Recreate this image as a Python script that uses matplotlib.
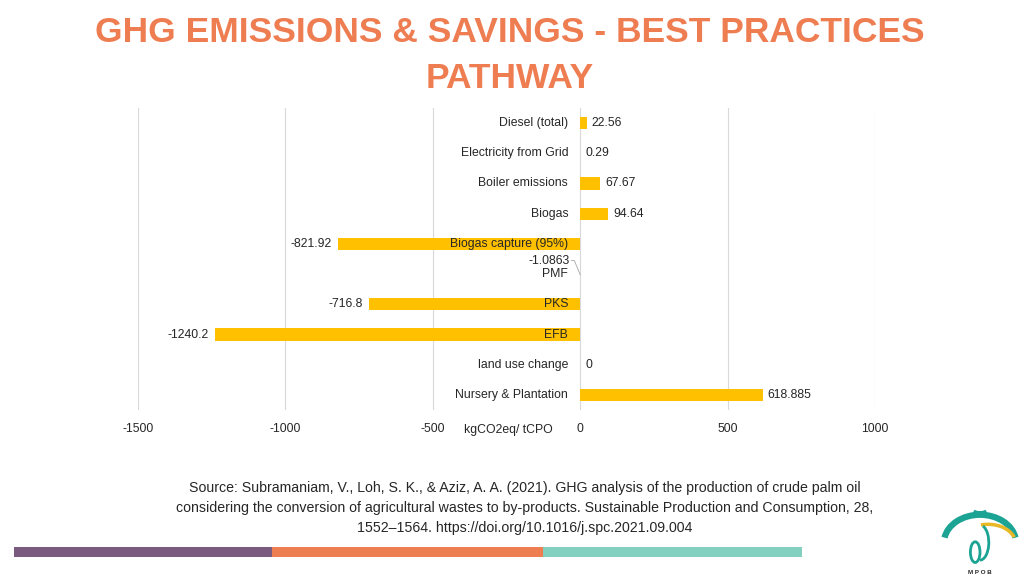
import matplotlib.pyplot as plt
from matplotlib.patches import Arc, Ellipse, Rectangle
import numpy as np

plt.rcParams['font.family'] = ['Liberation Sans', 'DejaVu Sans']

# ---- data ----
categories = ["Diesel (total)", "Electricity from Grid", "Boiler emissions", "Biogas",
              "Biogas capture (95%)", "PMF", "PKS", "EFB", "land use change",
              "Nursery & Plantation"]
values = [22.56, 0.29, 67.67, 94.64, -821.92, -1.0863, -716.8, -1240.2, 0, 618.885]
value_labels = ["22.56", "0.29", "67.67", "94.64", "-821.92", "-1.0863", "-716.8",
                "-1240.2", "0", "618.885"]
xticks = [-1500, -1000, -500, 0, 500, 1000]
xtick_labels = ["-1500", "-1000", "-500", "0", "500", "1000"]

title = "GHG EMISSIONS & SAVINGS - BEST PRACTICES\nPATHWAY"
source = ("Source: Subramaniam, V., Loh, S. K., & Aziz, A. A. (2021). GHG analysis of the production of crude palm oil\n"
          "considering the conversion of agricultural wastes to by-products. Sustainable Production and Consumption, 28,\n"
          "1552\u20131564. https://doi.org/10.1016/j.spc.2021.09.004")

orange = "#EE7D52"
bar_col = "#FFC000"
txt_col = "#262626"
fs = 8.8

fig = plt.figure(figsize=(10.24, 5.76), dpi=100)
ax = fig.add_axes([138/1024, 1 - 410/576, 737/1024, 302/576])

y = np.arange(len(categories))
ax.barh(y, values, height=0.4, color=bar_col, zorder=3)
ax.set_xlim(-1500, 1000)
ax.set_ylim(len(categories) - 0.5, -0.5)
ax.set_xticks(xticks)
ax.set_xticklabels(xtick_labels, fontsize=fs, color=txt_col)
ax.tick_params(axis='x', length=0, pad=9)
ax.set_yticks([])
for s in ax.spines.values():
    s.set_visible(False)
ax.grid(axis='x', color="#d9d9d9", linewidth=0.8, zorder=0)

# axis title sitting in the tick row
ax.text(-245, -20/302, "kgCO2eq/ tCPO", transform=ax.get_xaxis_transform(),
        ha='center', va='center', fontsize=fs, color=txt_col)

for i, (cat, v, lab) in enumerate(zip(categories, values, value_labels)):
    if cat == "PMF":
        ax.annotate(lab, xy=(0, i), xytext=(-10, 13), textcoords='offset pixels',
                    ha='right', va='center', fontsize=fs, color=txt_col)
        ax.annotate(cat, xy=(0, i), xytext=(-12, 0), textcoords='offset pixels',
                    ha='right', va='center', fontsize=fs, color=txt_col)
        ax.plot([-30, -20, 0], [i - 0.45, i - 0.45, i + 0.02], color="#a6a6a6",
                linewidth=0.6, zorder=4)
        continue
    ax.annotate(cat, xy=(0, i), xytext=(-12, 0), textcoords='offset pixels',
                ha='right', va='center', fontsize=fs, color=txt_col, zorder=5)
    if v >= 0:
        ax.annotate(lab, xy=(v, i), xytext=(5, 0), textcoords='offset pixels',
                    ha='left', va='center', fontsize=fs, color=txt_col)
    else:
        ax.annotate(lab, xy=(v, i), xytext=(-6, 0), textcoords='offset pixels',
                    ha='right', va='center', fontsize=fs, color=txt_col)

# title
fig.text(510/1024, 1 - 55/576, title, ha='center', va='center', fontsize=25.5,
         fontweight='bold', color=orange, linespacing=1.5)

# source text
fig.text(525/1024, 1 - 508/576, source, ha='center', va='center', fontsize=10.2,
         color=txt_col, linespacing=1.55)

# bottom colour stripe
for x0, x1, c in [(14, 272, "#7B5A80"), (272, 543, orange), (543, 802, "#84D0C0")]:
    fig.add_artist(Rectangle((x0/1024, 1 - 557/576), (x1 - x0)/1024, 10/576,
                             transform=fig.transFigure, color=c, lw=0))

# rough MPOB logo
lax = fig.add_axes([940/1024, 0, 80/1024, 70/576])
lax.set_xlim(0, 100)
lax.set_ylim(0, 88)
lax.axis('off')
teal = "#1BA394"
lax.add_patch(Arc((50, 42), 90, 70, theta1=8, theta2=172, color=teal, lw=4.5))
lax.add_patch(Arc((50, 84), 20, 10, theta1=200, theta2=340, color=teal, lw=3))
lax.add_patch(Arc((60, 40), 70, 50, theta1=15, theta2=110, color="#E9B826", lw=2.5))
lax.add_patch(Ellipse((44, 30), 12, 26, fill=False, ec=teal, lw=2))
lax.add_patch(Arc((50, 42), 22, 44, theta1=-90, theta2=80, color=teal, lw=2))
lax.text(50, 5, "M P O B", ha='center', va='center', fontsize=4.5, fontweight='bold',
         color=txt_col)

fig.savefig("out.png", dpi=100)
